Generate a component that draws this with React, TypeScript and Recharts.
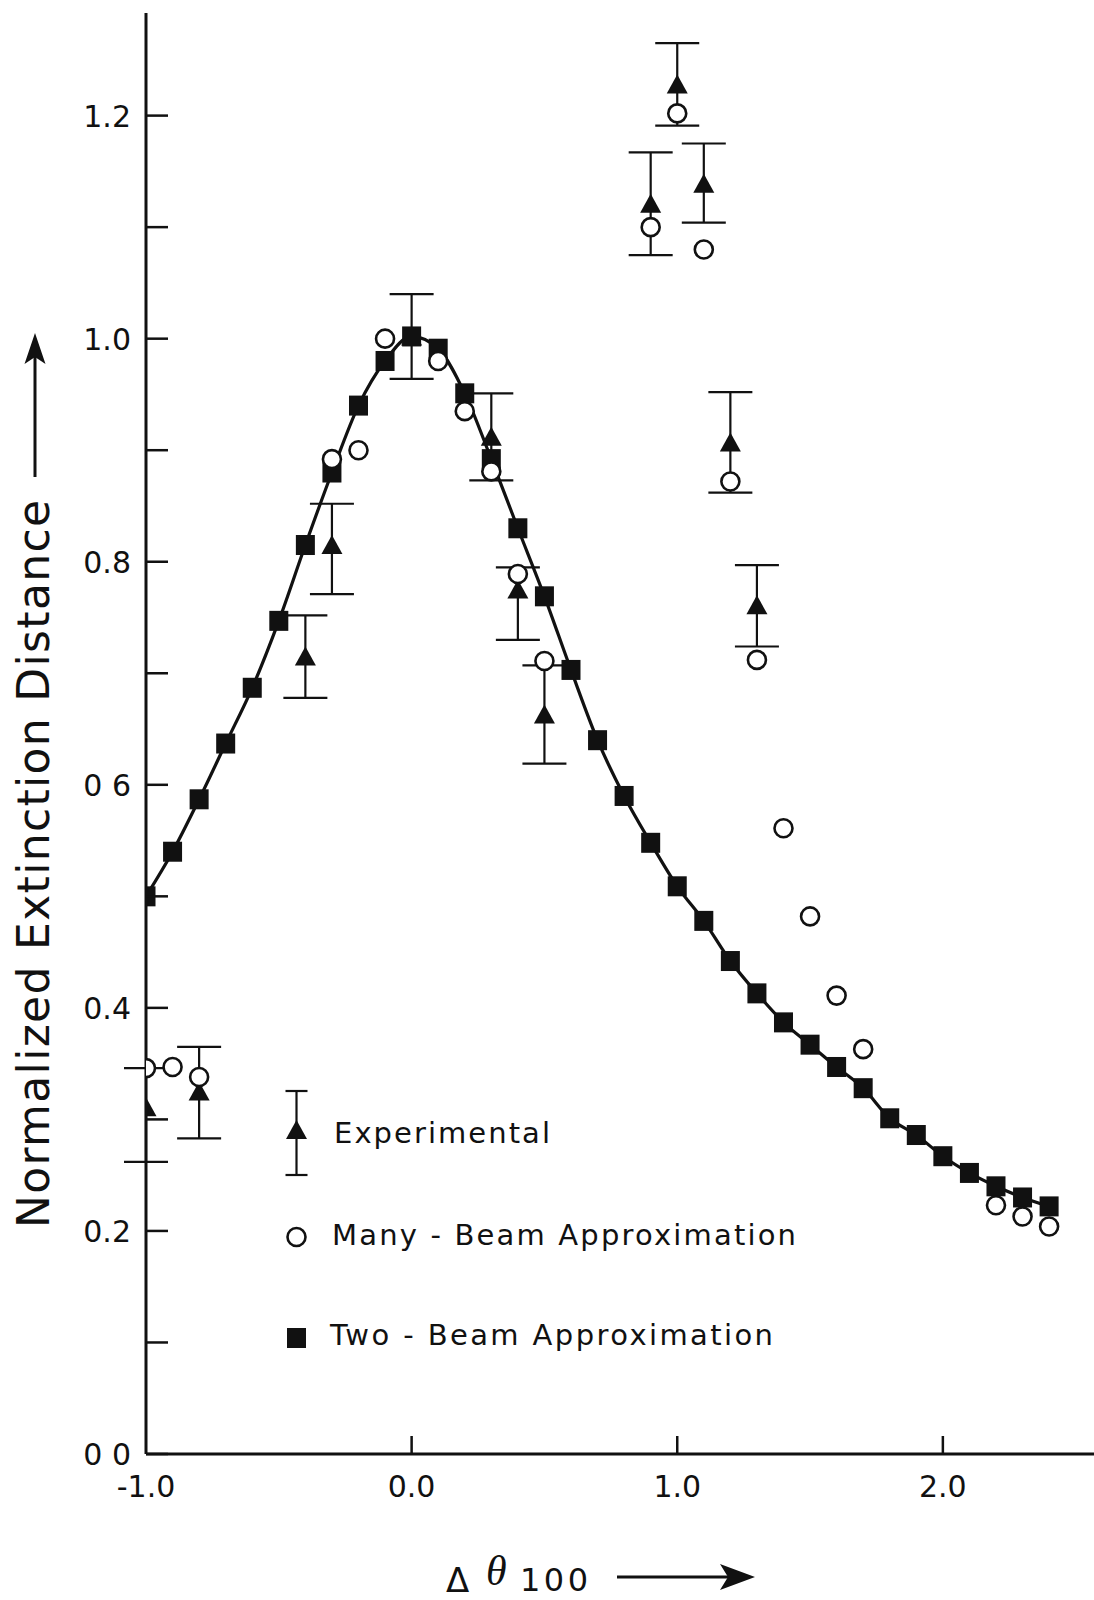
import React from 'react';
import { ComposedChart, Line, Scatter, XAxis, YAxis, ErrorBar } from 'recharts';

// Two-beam approximation (filled squares joined by the solid curve)
const twoBeamX = [-1.0, -0.9, -0.8, -0.7, -0.6, -0.5, -0.4, -0.3, -0.2, -0.1, 0.0, 0.1, 0.2, 0.3, 0.4, 0.5, 0.6, 0.7, 0.8, 0.9, 1.0, 1.1, 1.2, 1.3, 1.4, 1.5, 1.6, 1.7, 1.8, 1.9, 2.0, 2.1, 2.2, 2.3, 2.4];
const twoBeamY = [0.500, 0.540, 0.587, 0.637, 0.687, 0.747, 0.815, 0.880, 0.940, 0.980, 1.002, 0.991, 0.951, 0.892, 0.830, 0.769, 0.703, 0.640, 0.590, 0.548, 0.509, 0.478, 0.442, 0.413, 0.387, 0.367, 0.347, 0.328, 0.301, 0.286, 0.267, 0.252, 0.240, 0.230, 0.222];

// Many-beam approximation (open circles)
const manyBeamX = [-1.0, -0.9, -0.8, -0.3, -0.2, -0.1, 0.1, 0.2, 0.3, 0.4, 0.5, 0.9, 1.0, 1.1, 1.2, 1.3, 1.4, 1.5, 1.6, 1.7, 2.2, 2.3, 2.4];
const manyBeamY = [0.346, 0.347, 0.338, 0.892, 0.900, 1.000, 0.980, 0.935, 0.881, 0.789, 0.711, 1.100, 1.202, 1.080, 0.872, 0.712, 0.561, 0.482, 0.411, 0.363, 0.223, 0.213, 0.204];

// Experimental (filled triangles with error bars, [below, above])
const expX = [-1.0, -0.8, -0.4, -0.3, 0.0, 0.3, 0.4, 0.5, 0.9, 1.0, 1.1, 1.2, 1.3];
const expY = [0.311, 0.325, 0.715, 0.815, 1.002, 0.912, 0.775, 0.663, 1.121, 1.228, 1.139, 0.907, 0.761];
const expErrLow = [0.049, 0.042, 0.037, 0.044, 0.038, 0.039, 0.045, 0.044, 0.046, 0.037, 0.035, 0.045, 0.037];
const expErrHigh = [0.035, 0.040, 0.037, 0.037, 0.038, 0.039, 0.020, 0.044, 0.046, 0.037, 0.036, 0.045, 0.036];

const xTicks = [-1, 0, 1, 2];
const xTickLabels = ['-1.0', '0.0', '1.0', '2.0'];
const yTicks = [0, 0.1, 0.2, 0.3, 0.4, 0.5, 0.6, 0.7, 0.8, 0.9, 1.0, 1.1, 1.2];
const yTickLabels = ['0 0', '', '0.2', '', '0.4', '', '0 6', '', '0.8', '', '1.0', '', '1.2'];

const twoBeam = twoBeamX.map((x, i) => ({ x, y: twoBeamY[i] }));
const manyBeam = manyBeamX.map((x, i) => ({ x, y: manyBeamY[i] }));
const experimental = expX.map((x, i) => ({ x, y: expY[i], err: [expErrLow[i], expErrHigh[i]] }));

const FONT = '"DejaVu Sans", sans-serif';
const INK = '#111';

const LeftTick = ({ x, y, payload }: any) => {
  const label = yTickLabels[Math.round(payload.value * 10)];
  return (
    <g>
      <line x1={x} x2={x + 22} y1={y} y2={y} stroke={INK} strokeWidth={2.5} />
      {label ? (
        <text x={x - 15} y={y + 11} textAnchor="end" fontSize={30} fontFamily={FONT} fill={INK}>
          {label}
        </text>
      ) : null}
    </g>
  );
};

const RightTick = ({ x, y, payload }: any) =>
  payload.value > 0 ? <line x1={x - 12} x2={x} y1={y} y2={y} stroke={INK} strokeWidth={2.5} /> : <g />;

const BottomTick = ({ x, y, payload }: any) => {
  const label = xTickLabels[xTicks.indexOf(Math.round(payload.value))];
  return (
    <g>
      {payload.value > -1 ? <line x1={x} x2={x} y1={y} y2={y - 18} stroke={INK} strokeWidth={2.5} /> : null}
      <text x={x} y={y + 43} textAnchor="middle" fontSize={30} fontFamily={FONT} fill={INK}>
        {label}
      </text>
    </g>
  );
};

const TopTick = ({ x, y, payload }: any) =>
  payload.value > -1 ? <line x1={x} x2={x} y1={y} y2={y + 18} stroke={INK} strokeWidth={2.5} /> : <g />;

const Square = ({ cx, cy }: any) => <rect x={cx - 9.5} y={cy - 10} width={19} height={20} fill={INK} />;
const Circle = ({ cx, cy }: any) => <circle cx={cx} cy={cy} r={9} fill="#fff" stroke={INK} strokeWidth={2.6} />;
const Triangle = ({ cx, cy }: any) => (
  <polygon points={`${cx},${cy - 10} ${cx - 10.5},${cy + 9} ${cx + 10.5},${cy + 9}`} fill={INK} />
);

const axisStroke = { stroke: INK, strokeWidth: 3 };

export default function App() {
  return (
    <div style={{ position: 'absolute', left: 0, top: 0, width: 1094, height: 1600, background: '#fff', overflow: 'hidden' }}>
      <ComposedChart width={1094} height={1600} margin={{ top: 13, right: 0, bottom: 0, left: 0 }}>
        <XAxis
          xAxisId="b"
          type="number"
          dataKey="x"
          domain={[-1, 2.569]}
          allowDataOverflow
          ticks={xTicks}
          interval={0}
          height={146}
          tickSize={0}
          tickMargin={0}
          tickLine={false}
          axisLine={axisStroke}
          tick={<BottomTick />}
        />
        <XAxis
          xAxisId="t"
          orientation="top"
          type="number"
          dataKey="x"
          domain={[-1, 2.569]}
          allowDataOverflow
          ticks={xTicks}
          interval={0}
          height={0}
          tickSize={0}
          tickMargin={0}
          tickLine={false}
          axisLine={axisStroke}
          tick={<TopTick />}
        />
        <YAxis
          yAxisId="l"
          type="number"
          dataKey="y"
          domain={[0, 1.292]}
          allowDataOverflow
          ticks={yTicks}
          interval={0}
          width={146}
          tickSize={0}
          tickMargin={0}
          tickLine={false}
          axisLine={axisStroke}
          tick={<LeftTick />}
        />
        <YAxis
          yAxisId="r"
          orientation="right"
          type="number"
          dataKey="y"
          domain={[0, 1.292]}
          allowDataOverflow
          ticks={yTicks}
          interval={0}
          width={0}
          tickSize={0}
          tickMargin={0}
          tickLine={false}
          axisLine={false}
          tick={<RightTick />}
        />
        <Line
          xAxisId="b"
          yAxisId="l"
          data={twoBeam}
          dataKey="y"
          type="monotone"
          stroke={INK}
          strokeWidth={3.2}
          dot={false}
          activeDot={false}
          isAnimationActive={false}
        />
        <Scatter xAxisId="b" yAxisId="l" data={experimental} dataKey="y" shape={Triangle} isAnimationActive={false}>
          <ErrorBar dataKey="err" direction="y" width={22} stroke={INK} strokeWidth={2.2} isAnimationActive={false} />
        </Scatter>
        <Scatter xAxisId="b" yAxisId="l" data={twoBeam} dataKey="y" shape={Square} isAnimationActive={false} />
        <Scatter xAxisId="t" yAxisId="r" data={manyBeam} dataKey="y" shape={Circle} isAnimationActive={false} />
      </ComposedChart>

      <svg width={1094} height={1600} style={{ position: 'absolute', left: 0, top: 0, pointerEvents: 'none' }}>
        <g fontFamily={FONT} fill={INK}>
          {/* y axis title with upward arrow */}
          <text transform="translate(49,864) rotate(-90)" textAnchor="middle" fontSize={44} textLength={728} lengthAdjust="spacing">
            Normalized Extinction Distance
          </text>
          <line x1={35} x2={35} y1={477} y2={356} stroke={INK} strokeWidth={3} />
          <polygon points="35,333 24.5,364 35,357 45.5,364" fill={INK} />

          {/* x axis title with rightward arrow */}
          <text x={446} y={1592} fontSize={34}>Δ</text>
          <text x={486} y={1585} fontSize={42} fontStyle="italic" fontFamily='"Liberation Serif", serif'>θ</text>
          <text x={520} y={1591} fontSize={32} textLength={68} lengthAdjust="spacing">100</text>
          <line x1={617} x2={735} y1={1577} y2={1577} stroke={INK} strokeWidth={3} />
          <polygon points="755,1577 720,1564 728,1577 720,1590" fill={INK} />

          {/* legend */}
          <line x1={296.5} x2={296.5} y1={1091} y2={1175} stroke={INK} strokeWidth={2.2} />
          <line x1={285.5} x2={307.5} y1={1091} y2={1091} stroke={INK} strokeWidth={2.2} />
          <line x1={285.5} x2={307.5} y1={1175} y2={1175} stroke={INK} strokeWidth={2.2} />
          <polygon points="296.5,1120 286,1139 307,1139" fill={INK} />
          <text x={334} y={1143} fontSize={29} textLength={216} lengthAdjust="spacing">Experimental</text>

          <circle cx={296.5} cy={1237} r={9} fill="#fff" stroke={INK} strokeWidth={2.6} />
          <text x={332} y={1245} fontSize={29} textLength={464} lengthAdjust="spacing">Many - Beam Approximation</text>

          <rect x={287} y={1328} width={19} height={20} fill={INK} />
          <text x={330} y={1345} fontSize={29} textLength={443} lengthAdjust="spacing">Two - Beam Approximation</text>
        </g>
      </svg>
    </div>
  );
}
